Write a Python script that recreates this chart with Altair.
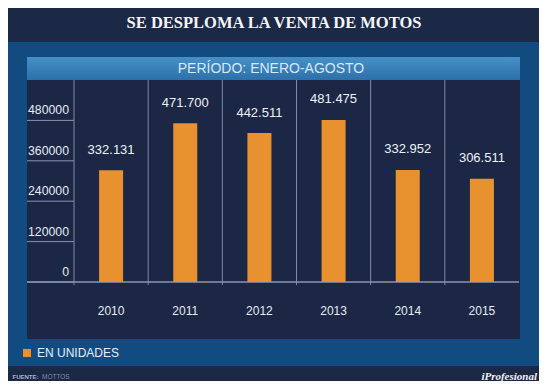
import altair as alt
import pandas as pd

# ---- data ----
years = ["2010", "2011", "2012", "2013", "2014", "2015"]
values = [332131, 471700, 442511, 481475, 332952, 306511]
value_labels = ["332.131", "471.700", "442.511", "481.475", "332.952", "306.511"]
y_ticks = [0, 120000, 240000, 360000, 480000]
y_tick_labels = ["0", "120000", "240000", "360000", "480000"]

title_text = "SE DESPLOMA LA VENTA DE MOTOS"
subtitle_text = "PERÍODO: ENERO-AGOSTO"
legend_text = "EN UNIDADES"

df = pd.DataFrame({"year": years, "value": values, "label": value_labels})
ticks_df = pd.DataFrame({"tick": y_ticks, "tlabel": y_tick_labels})
one = pd.DataFrame({"a": [0]})

NAVY = "#1b2846"
DARK = "#1b2744"
BLUE = "#114b80"
ORANGE = "#e8912f"
GRID = "#8796b0"
SANS = "Liberation Sans"
SERIF = "Liberation Serif"

W, H = 445, 202

xs = alt.Scale(domain=years, paddingInner=0, paddingOuter=0)
ys = alt.Scale(domain=[0, 600000], nice=False, zero=True)


def box(x1, x2, y1, y2, color, **kw):
    return alt.Chart(one).mark_rect(color=color, **kw).encode(
        x=alt.value(x1), x2=alt.value(x2), y=alt.value(y1), y2=alt.value(y2)
    )


panel = box(-74, 471, -80, 310, NAVY, cornerRadius=10)
band = box(-74, 471, -38, 286, BLUE)
edge_r = box(468, 471, -38, 286, "#2a67a0")
strip = box(-47, 446, -23, 0, alt.Gradient(
    gradient="linear",
    stops=[alt.GradientStop(color="#4690c8", offset=0),
           alt.GradientStop(color="#2c70a9", offset=1)],
    x1=0, x2=0, y1=0, y2=1))
chart_bg = box(-47, 446, 0, 259, DARK)

grid = alt.Chart(ticks_df).mark_rule(color=GRID, strokeWidth=1).encode(
    y=alt.Y("tick:Q", scale=ys, axis=None),
    x=alt.value(-47), x2=alt.value(0),
)
baseline = alt.Chart(one).mark_rule(color=GRID, strokeWidth=1.5).encode(
    x=alt.value(-47), x2=alt.value(W), y=alt.value(H)
)
seps = alt.Chart(df).mark_rule(color="#7d8ca8", strokeWidth=1).encode(
    x=alt.X("year:N", scale=xs, axis=None, bandPosition=0),
    y=alt.value(0), y2=alt.value(H + 3),
)

bars = alt.Chart(df).mark_bar(color=ORANGE, width=24).encode(
    x=alt.X("year:N", scale=xs, axis=None),
    y=alt.Y("value:Q", scale=ys, axis=None),
)
vlabels = alt.Chart(df).mark_text(
    font=SANS, fontSize=13, color="#eef2f8", baseline="middle", dy=-20.5
).encode(
    x=alt.X("year:N", scale=xs, axis=None),
    y=alt.Y("value:Q", scale=ys, axis=None),
    text="label:N",
)
tlabels = alt.Chart(ticks_df).mark_text(
    font=SANS, fontSize=12.3, color="#e6ecf5", align="right", baseline="middle", dy=-10
).encode(
    y=alt.Y("tick:Q", scale=ys, axis=None),
    x=alt.value(-5),
    text="tlabel:N",
)
xlabels = alt.Chart(df).mark_text(
    font=SANS, fontSize=12, color="#e6ecf5", baseline="middle"
).encode(
    x=alt.X("year:N", scale=xs, axis=None),
    y=alt.value(230.7),
    text="year:N",
)

title = alt.Chart(one).mark_text(
    text=title_text, font=SERIF, fontSize=16.5, fontWeight="bold",
    color="#f7f7f7", baseline="middle"
).encode(x=alt.value(200), y=alt.value(-57.3))
subtitle = alt.Chart(one).mark_text(
    text=subtitle_text, font=SANS, fontSize=14, color="#dbe8f6", baseline="middle"
).encode(x=alt.value(197), y=alt.value(-11))

legend_sq = box(-51, -43, 269, 277, ORANGE)
legend_tx = alt.Chart(one).mark_text(
    text=legend_text, font=SANS, fontSize=12, color="#e8eef7",
    align="left", baseline="middle"
).encode(x=alt.value(-37), y=alt.value(272.5))

src1 = alt.Chart(one).mark_text(
    text="FUENTE:", font=SANS, fontSize=6, fontWeight="bold", color="#aab6cc",
    align="left", baseline="middle"
).encode(x=alt.value(-61.5), y=alt.value(296.5))
src2 = alt.Chart(one).mark_text(
    text="MOTTOS", font=SANS, fontSize=6.5, color="#7f8ba3",
    align="left", baseline="middle"
).encode(x=alt.value(-32), y=alt.value(296.5))
brand = alt.Chart(one).mark_text(
    text="iProfesional", font=SERIF, fontSize=11, fontWeight="bold",
    fontStyle="italic", color="#f2f2f2", align="right", baseline="middle"
).encode(x=alt.value(463), y=alt.value(296.5))

chart = alt.layer(
    panel, band, edge_r, strip, chart_bg, grid, seps, baseline, bars, vlabels,
    tlabels, xlabels, title, subtitle, legend_sq, legend_tx,
    src1, src2, brand,
).properties(
    width=W, height=H,
    padding={"left": 66, "top": 72, "right": 20, "bottom": 99},
    autosize="none",
    background="white",
).configure_view(stroke=None)

chart.save("out.html", embed_options={"renderer": "svg", "actions": False})
